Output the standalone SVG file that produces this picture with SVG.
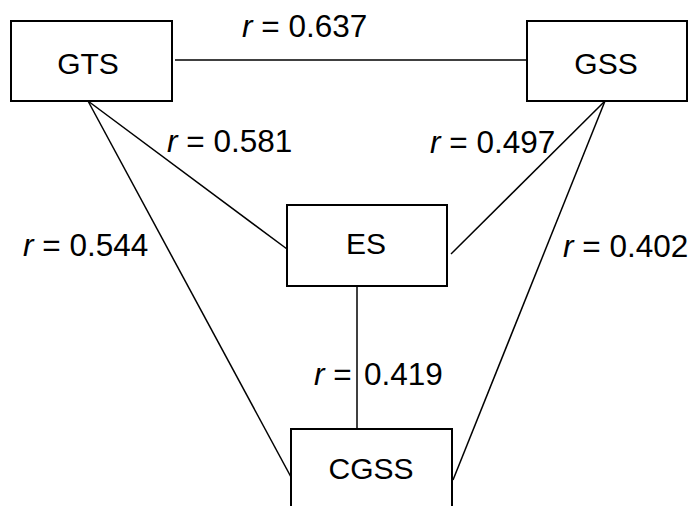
<svg xmlns="http://www.w3.org/2000/svg" width="692" height="506" viewBox="0 0 692 506">
<style>
.box{fill:#fff;stroke:#000;stroke-width:2}
.edge{stroke:#000;stroke-width:1.5;fill:none}
text{font-family:"Liberation Sans",Arial,sans-serif;font-size:30px;fill:#000}
.name{text-anchor:middle}
.lab{font-size:31.5px}
.r{font-style:italic}
</style>
<rect width="692" height="506" fill="#fff"/>
<g id="connectors">
<line class="edge" x1="175" y1="60" x2="530" y2="60"/>
<line class="edge" x1="88" y1="101" x2="287" y2="249"/>
<line class="edge" x1="88" y1="101" x2="291" y2="477"/>
<line class="edge" x1="605" y1="101" x2="451" y2="254"/>
<line class="edge" x1="605" y1="101" x2="453" y2="480"/>
<line class="edge" x1="357" y1="286" x2="357" y2="429"/>
</g>
<g id="GTS"><rect class="box" x="11" y="21" width="161" height="80"/><text class="name" x="88" y="74">GTS</text></g>
<g id="GSS"><rect class="box" x="527" y="21" width="160" height="80"/><text class="name" x="606" y="74">GSS</text></g>
<g id="ES"><rect class="box" x="287" y="205" width="160" height="81"/><text class="name" x="366" y="254">ES</text></g>
<g id="CGSS"><rect class="box" x="291" y="429" width="161" height="100"/><text class="name" x="371" y="479">CGSS</text></g>
<g id="labels">
<text class="lab" x="242" y="37"><tspan class="r">r</tspan> = 0.637</text>
<text class="lab" x="167" y="152"><tspan class="r">r</tspan> = 0.581</text>
<text class="lab" x="430" y="153"><tspan class="r">r</tspan> = 0.497</text>
<text class="lab" x="23" y="256"><tspan class="r">r</tspan> = 0.544</text>
<text class="lab" x="563" y="257"><tspan class="r">r</tspan> = 0.402</text>
<text class="lab" x="314" y="385"><tspan class="r">r</tspan> =</text>
<text class="lab" x="364" y="385">0.419</text>
</g>
</svg>
